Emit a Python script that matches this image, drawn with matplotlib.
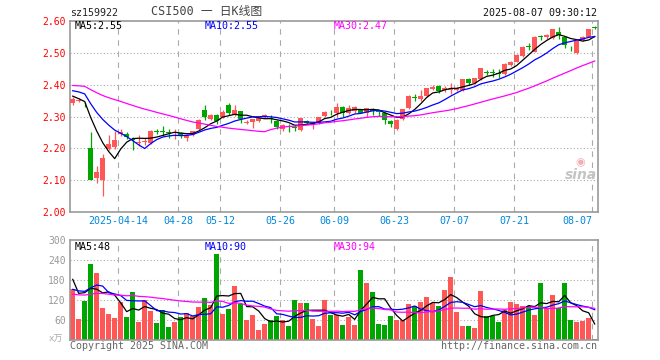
import numpy as np
import pandas as pd
import matplotlib
matplotlib.use("Agg")
import matplotlib.pyplot as plt

# daily candles 2025-04-01 .. 2025-08-07 (sz159922)
opens = [2.341, 2.350, 2.340, 2.200, 2.106, 2.100, 2.197, 2.205, 2.246, 2.246,
         2.230, 2.216, 2.219, 2.218, 2.254, 2.253, 2.251, 2.244, 2.249, 2.231,
         2.242, 2.260, 2.320, 2.293, 2.306, 2.299, 2.336, 2.305, 2.317, 2.279,
         2.284, 2.287, 2.297, 2.296, 2.287, 2.260, 2.270, 2.265, 2.258, 2.285,
         2.273, 2.280, 2.302, 2.315, 2.312, 2.331, 2.312, 2.318, 2.320, 2.312,
         2.319, 2.317, 2.312, 2.287, 2.260, 2.291, 2.326, 2.362, 2.354, 2.364,
         2.386, 2.396, 2.383, 2.384, 2.384, 2.383, 2.417, 2.404, 2.417, 2.440,
         2.438, 2.437, 2.433, 2.462, 2.472, 2.490, 2.521, 2.504, 2.551, 2.549,
         2.546, 2.566, 2.551, 2.516, 2.500, 2.540, 2.551, 2.582]
highs = [2.362, 2.358, 2.345, 2.252, 2.144, 2.181, 2.242, 2.254, 2.262, 2.250,
         2.236, 2.242, 2.232, 2.258, 2.260, 2.270, 2.262, 2.262, 2.252, 2.245,
         2.256, 2.292, 2.336, 2.308, 2.308, 2.320, 2.342, 2.336, 2.318, 2.288,
         2.292, 2.298, 2.308, 2.306, 2.289, 2.275, 2.276, 2.272, 2.296, 2.290,
         2.281, 2.300, 2.318, 2.320, 2.343, 2.334, 2.336, 2.334, 2.322, 2.326,
         2.326, 2.320, 2.313, 2.289, 2.292, 2.325, 2.368, 2.370, 2.383, 2.391,
         2.398, 2.398, 2.395, 2.405, 2.392, 2.419, 2.421, 2.422, 2.453, 2.446,
         2.448, 2.450, 2.467, 2.474, 2.495, 2.521, 2.532, 2.553, 2.556, 2.558,
         2.576, 2.582, 2.553, 2.522, 2.540, 2.553, 2.576, 2.584]
lows = [2.336, 2.346, 2.330, 2.100, 2.092, 2.050, 2.195, 2.197, 2.238, 2.230,
        2.195, 2.207, 2.212, 2.215, 2.245, 2.240, 2.232, 2.230, 2.232, 2.224,
        2.238, 2.258, 2.289, 2.290, 2.275, 2.296, 2.305, 2.303, 2.280, 2.275,
        2.264, 2.282, 2.294, 2.280, 2.262, 2.255, 2.250, 2.255, 2.256, 2.278,
        2.260, 2.278, 2.300, 2.305, 2.300, 2.297, 2.308, 2.312, 2.310, 2.300,
        2.305, 2.302, 2.276, 2.268, 2.258, 2.288, 2.324, 2.350, 2.350, 2.362,
        2.384, 2.374, 2.376, 2.370, 2.380, 2.381, 2.398, 2.402, 2.415, 2.430,
        2.425, 2.422, 2.431, 2.460, 2.470, 2.488, 2.508, 2.502, 2.540, 2.545,
        2.544, 2.545, 2.516, 2.505, 2.497, 2.538, 2.549, 2.576]
closes = [2.354, 2.353, 2.338, 2.100, 2.127, 2.171, 2.214, 2.226, 2.251, 2.235,
          2.226, 2.221, 2.223, 2.255, 2.252, 2.251, 2.249, 2.246, 2.242, 2.242,
          2.253, 2.289, 2.297, 2.305, 2.285, 2.315, 2.310, 2.320, 2.291, 2.284,
          2.291, 2.294, 2.305, 2.293, 2.266, 2.273, 2.268, 2.263, 2.294, 2.281,
          2.280, 2.297, 2.315, 2.313, 2.331, 2.310, 2.326, 2.331, 2.312, 2.326,
          2.317, 2.315, 2.289, 2.276, 2.289, 2.323, 2.364, 2.359, 2.364, 2.389,
          2.394, 2.380, 2.391, 2.387, 2.390, 2.417, 2.404, 2.420, 2.451, 2.438,
          2.436, 2.435, 2.465, 2.472, 2.493, 2.519, 2.519, 2.551, 2.549, 2.556,
          2.574, 2.556, 2.525, 2.514, 2.538, 2.551, 2.574, 2.578]
volumes = [152, 63, 117, 228, 202, 97, 78, 67, 114, 69,
           144, 55, 120, 87, 51, 90, 39, 55, 69, 82,
           72, 99, 126, 105, 258, 78, 93, 162, 108, 60,
           75, 30, 48, 60, 72, 60, 42, 120, 111, 111,
           63, 42, 120, 75, 75, 45, 69, 45, 210, 171,
           144, 48, 45, 72, 60, 60, 108, 102, 114, 129,
           111, 102, 150, 189, 84, 42, 42, 36, 147, 72,
           72, 54, 90, 114, 108, 102, 102, 75, 171, 96,
           135, 96, 171, 60, 54, 57, 66, 3]

# earlier sessions (not drawn), only to warm up the moving averages
pre_closes = [2.38, 2.39, 2.41, 2.42, 2.43, 2.42, 2.41, 2.42, 2.43, 2.41,
              2.40, 2.39, 2.40, 2.41, 2.40, 2.39, 2.40, 2.41, 2.39, 2.40,
              2.39, 2.40, 2.41, 2.40, 2.39, 2.393, 2.383, 2.35, 2.34]
pre_volumes = [120, 135, 150, 125, 110, 140, 130, 145, 120, 115,
               135, 150, 130, 125, 140, 120, 130, 135, 125, 120,
               110, 130, 125, 115, 130, 273, 107, 163, 215]

tick_idx = [8, 18, 25, 35, 44, 54, 64, 74, 87]
tick_labels = ["2025-04-14", "04-28", "05-12", "05-26", "06-09",
               "06-23", "07-07", "07-21", "08-07"]
price_ticks = [2.00, 2.10, 2.20, 2.30, 2.40, 2.50, 2.60]
vol_ticks = [60, 120, 180, 240, 300]

RED = "#ff5656"
GREEN = "#00a600"
GRID = "#aaaaaa"
MONO = "DejaVu Sans Mono"


def moving(pre, vals, n):
    s = pd.Series(pre + vals).rolling(n).mean()
    return s.iloc[len(pre):].to_numpy()


x = np.arange(len(closes))
o = np.array(opens)
c = np.array(closes)
cols = [RED if c[i] > o[i] else GREEN for i in range(len(c))]

fig = plt.figure(figsize=(6.6, 3.6), dpi=100)
fig.patch.set_facecolor("white")
W, H = 660.0, 360.0

ax = fig.add_axes([70 / W, 1 - 212 / H, 528 / W, 191 / H])
axv = fig.add_axes([70 / W, 1 - 340 / H, 528 / W, 100 / H])

# price panel
for p in price_ticks[1:-1]:
    ax.axhline(p, color=GRID, lw=0.8, ls=(0, (1, 2)), zorder=0)
for t in tick_idx:
    ax.axvline(t - 0.45, color=GRID, lw=0.8, ls=(0, (5, 5)), zorder=0)
    axv.axvline(t - 0.45, color=GRID, lw=0.8, ls=(0, (5, 5)), zorder=0)

ax.vlines(x, lows, highs, colors=cols, lw=0.9, zorder=2)
body_lo = np.minimum(o, c)
body_h = np.maximum(np.abs(c - o), 0.0025)
ax.bar(x, body_h, width=0.85, bottom=body_lo, color=cols, lw=0, zorder=3)

ax.plot(x, moving(pre_closes, closes, 5), color="black", lw=0.9, zorder=4)
ax.plot(x, moving(pre_closes, closes, 10), color="#0000ff", lw=0.9, zorder=4)
ax.plot(x, moving(pre_closes, closes, 30), color="#ff00ff", lw=0.9, zorder=4)

ax.set_xlim(-0.45, 87.55)
ax.set_ylim(2.0, 2.6)
ax.set_yticks(price_ticks)
ax.set_yticklabels(["%.2f" % p for p in price_ticks], color="#ff0000",
                   fontsize=7, family=MONO)
ax.set_xticks([t - 0.45 for t in tick_idx])
ax.set_xticklabels(tick_labels, color="#0088dd", fontsize=7.2, family=MONO)
ax.get_xticklabels()[-1].set_horizontalalignment("right")
ax.tick_params(length=0, pad=3)

# volume panel
for v in vol_ticks[:-1]:
    axv.axhline(v, color=GRID, lw=0.8, ls=(0, (1, 2)), zorder=0)
axv.bar(x, volumes, width=0.88, color=cols, lw=0, zorder=2)
axv.plot(x, moving(pre_volumes, volumes, 5), color="black", lw=0.9, zorder=4)
axv.plot(x, moving(pre_volumes, volumes, 10), color="#0000ff", lw=0.9, zorder=4)
axv.plot(x, moving(pre_volumes, volumes, 30), color="#ff00ff", lw=0.9, zorder=4)
axv.set_xlim(-0.45, 87.55)
axv.set_ylim(0, 300)
axv.set_yticks(vol_ticks)
axv.set_yticklabels([str(v) for v in vol_ticks], color="#999999",
                    fontsize=7, family=MONO)
axv.set_xticks([])
axv.tick_params(length=0, pad=3)

for a in (ax, axv):
    for sp in a.spines.values():
        sp.set_color("#999999")
        sp.set_linewidth(1.2)


def txt(px, py, s, **kw):
    kw.setdefault("family", MONO)
    kw.setdefault("fontsize", 7.2)
    kw.setdefault("va", "center")
    fig.text(px / W, 1 - py / H, s, **kw)


txt(70, 12.5, "sz159922", color="#222222")
txt(207, 12, "CSI500 一 日K线图", ha="center", fontsize=8.5, color="#444444",
    family=[MONO, "Noto Sans CJK SC"])
txt(597, 12.5, "2025-08-07 09:30:12", ha="right", color="#111111")

txt(75, 26, "MA5:2.55", color="black")
txt(205, 26, "MA10:2.55", color="#0000ff")
txt(334, 26, "MA30:2.47", color="#ff00ff")

txt(75, 246.5, "MA5:48", color="black")
txt(205, 246.5, "MA10:90", color="#0000ff")
txt(334, 246.5, "MA30:94", color="#ff00ff")

txt(49, 339, "x万", color="#aaaaaa", fontsize=6.5, family=[MONO, "Noto Sans CJK SC"])
txt(70, 346, "Copyright 2025 SINA.COM", color="#666666")
txt(597, 346, "http://finance.sina.com.cn", ha="right", color="#666666")

txt(581, 175, "sina", ha="center", fontsize=10, fontweight="bold",
    style="italic", color="#c4c4c4", family="DejaVu Sans")
txt(580, 162, "◉", ha="center", fontsize=8, color="#f2b0b0", family="DejaVu Sans")

fig.savefig("out.png", dpi=100, facecolor="white")
